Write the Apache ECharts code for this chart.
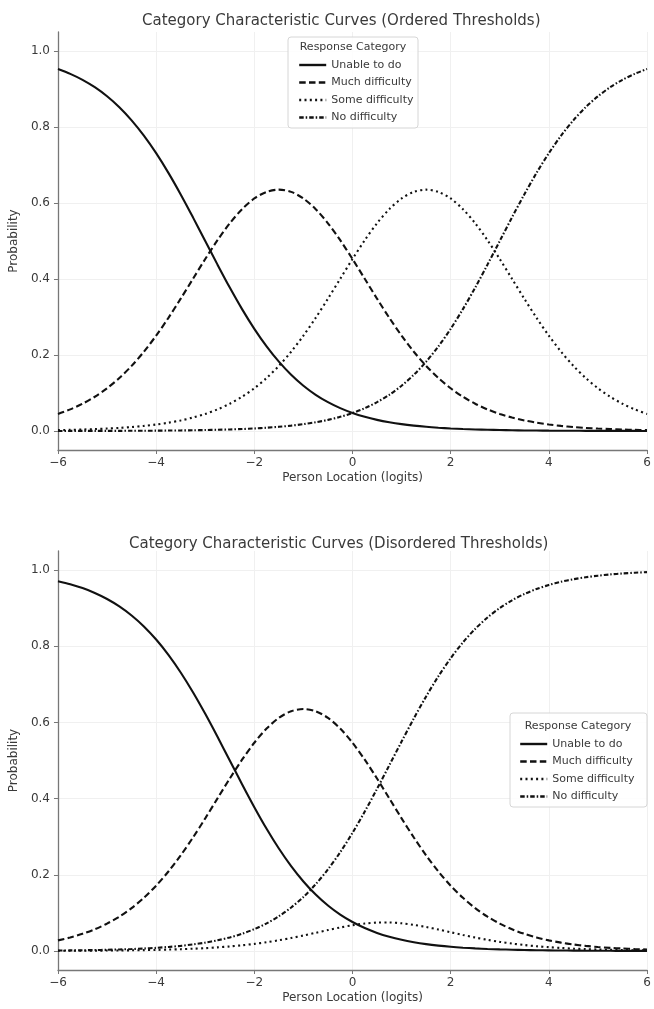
<!DOCTYPE html>
<html>
<head>
<meta charset="utf-8">
<script src="https://cdn.jsdelivr.net/npm/echarts@6/dist/echarts.min.js"></script>
<style>
html,body{margin:0;padding:0;background:#fff;}
#chart{width:654px;height:1009px;}
</style>
</head>
<body>
<div id="chart"></div>
<script>
const categories = ['Unable to do', 'Much difficulty', 'Some difficulty', 'No difficulty'];
const personLocation = [-6,-5.75,-5.5,-5.25,-5,-4.75,-4.5,-4.25,-4,-3.75,-3.5,-3.25,-3,-2.75,-2.5,-2.25,-2,-1.75,-1.5,-1.25,-1,-0.75,-0.5,-0.25,0,0.25,0.5,0.75,1,1.25,1.5,1.75,2,2.25,2.5,2.75,3,3.25,3.5,3.75,4,4.25,4.5,4.75,5,5.25,5.5,5.75,6];
const xTicks = [-6,-4,-2,0,2,4,6];
const yTicks = [0,0.2,0.4,0.6,0.8,1.0];

// Ordered thresholds
const ordUnable = [0.9526,0.9399,0.9241,0.9047,0.8808,0.8520,0.8176,0.7773,0.7311,0.6792,0.6225,0.5622,0.5,0.4378,0.3775,0.3208,0.2689,0.2227,0.1824,0.1480,0.1192,0.0953,0.0759,0.0601,0.0474,0.0373,0.0293,0.0230,0.0180,0.0141,0.0110,0.0086,0.0067,0.0052,0.0041,0.0032,0.0025,0.0019,0.0015,0.0012,0.0009,0.0007,0.0006,0.0004,0.0003,0.0003,0.0002,0.0002,0.0001];
const ordMuch   = [0.0450,0.0569,0.0718,0.0901,0.1125,0.1395,0.1714,0.2086,0.2510,0.2978,0.3482,0.4005,0.4526,0.5021,0.5466,0.5838,0.6119,0.6293,0.6351,0.6293,0.6119,0.5838,0.5466,0.5021,0.4526,0.4005,0.3482,0.2978,0.2510,0.2086,0.1714,0.1395,0.1125,0.0901,0.0718,0.0569,0.0450,0.0354,0.0278,0.0218,0.0171,0.0134,0.0104,0.0081,0.0064,0.0050,0.0039,0.0030,0.0024];
const ordSome   = [0.0024,0.0030,0.0039,0.0050,0.0064,0.0081,0.0104,0.0134,0.0171,0.0218,0.0278,0.0354,0.0450,0.0569,0.0718,0.0901,0.1125,0.1395,0.1714,0.2086,0.2510,0.2978,0.3482,0.4005,0.4526,0.5021,0.5466,0.5838,0.6119,0.6293,0.6351,0.6293,0.6119,0.5838,0.5466,0.5021,0.4526,0.4005,0.3482,0.2978,0.2510,0.2086,0.1714,0.1395,0.1125,0.0901,0.0718,0.0569,0.0450];
const ordNo     = [0.0001,0.0002,0.0002,0.0003,0.0003,0.0004,0.0006,0.0007,0.0009,0.0012,0.0015,0.0019,0.0025,0.0032,0.0041,0.0052,0.0067,0.0086,0.0110,0.0141,0.0180,0.0230,0.0293,0.0373,0.0474,0.0601,0.0759,0.0953,0.1192,0.1480,0.1824,0.2227,0.2689,0.3208,0.3775,0.4378,0.5,0.5622,0.6225,0.6792,0.7311,0.7773,0.8176,0.8520,0.8808,0.9047,0.9241,0.9399,0.9526];

// Disordered thresholds
const disUnable = [0.9707,0.9627,0.9526,0.9399,0.9241,0.9047,0.8808,0.8520,0.8176,0.7773,0.7311,0.6792,0.6225,0.5622,0.5,0.4378,0.3775,0.3208,0.2689,0.2227,0.1824,0.1480,0.1192,0.0953,0.0759,0.0601,0.0474,0.0373,0.0293,0.0230,0.0180,0.0141,0.0110,0.0086,0.0067,0.0052,0.0041,0.0032,0.0025,0.0019,0.0015,0.0012,0.0009,0.0007,0.0006,0.0004,0.0003,0.0003,0.0002];
const disMuch   = [0.0278,0.0354,0.0450,0.0569,0.0718,0.0901,0.1125,0.1395,0.1714,0.2086,0.2510,0.2978,0.3482,0.4005,0.4526,0.5021,0.5466,0.5838,0.6119,0.6293,0.6351,0.6293,0.6119,0.5838,0.5466,0.5021,0.4526,0.4005,0.3482,0.2978,0.2510,0.2086,0.1714,0.1395,0.1125,0.0901,0.0718,0.0569,0.0450,0.0354,0.0278,0.0218,0.0171,0.0134,0.0104,0.0081,0.0064,0.0050,0.0039];
const disSome   = [0.0004,0.0005,0.0006,0.0008,0.0011,0.0014,0.0017,0.0022,0.0028,0.0036,0.0046,0.0059,0.0074,0.0094,0.0119,0.0149,0.0185,0.0229,0.0281,0.0340,0.0406,0.0476,0.0548,0.0616,0.0675,0.0720,0.0744,0.0747,0.0726,0.0685,0.0629,0.0562,0.0491,0.0420,0.0353,0.0292,0.0239,0.0194,0.0156,0.0124,0.0099,0.0078,0.0061,0.0048,0.0038,0.0030,0.0023,0.0018,0.0014];
const disNo     = [0.0011,0.0014,0.0018,0.0024,0.0030,0.0039,0.0050,0.0064,0.0082,0.0105,0.0134,0.0171,0.0219,0.0279,0.0356,0.0452,0.0573,0.0724,0.0911,0.1141,0.1419,0.1751,0.2142,0.2592,0.3100,0.3659,0.4256,0.4875,0.5498,0.6106,0.6682,0.7211,0.7685,0.8100,0.8455,0.8754,0.9003,0.9206,0.9370,0.9503,0.9608,0.9692,0.9759,0.9811,0.9852,0.9885,0.9910,0.9930,0.9945];

const titles = ['Category Characteristic Curves (Ordered Thresholds)', 'Category Characteristic Curves (Disordered Thresholds)'];
const FONT = 'DejaVu Sans';
const TXT = '#3a3a3a';
const SPINE = '#777777';
const GRIDC = '#f0f0f0';
const dashTypes = ['solid', [6.5, 3.3], [2, 3.3], [4.5, 2, 1.5, 2]];

const chart = echarts.init(document.getElementById('chart'), null, {renderer: 'canvas'});

function pairs(ys) { return personLocation.map((x, i) => [x, ys[i]]); }
const minus = v => String(v).replace('-', '\u2212');

function xAxisFor(gi) {
  return {
    type: 'value', gridIndex: gi, min: -6, max: 6, interval: 2,
    name: 'Person Location (logits)', nameLocation: 'middle', nameGap: 22,
    nameTextStyle: {fontFamily: FONT, fontSize: 12, color: TXT},
    axisLine: {show: true, onZero: false, lineStyle: {color: SPINE, width: 1.3}},
    axisTick: {show: true, inside: false, length: 4, lineStyle: {color: SPINE, width: 1}},
    axisLabel: {fontFamily: FONT, fontSize: 12, color: TXT, margin: 7, formatter: v => minus(v)},
    splitLine: {show: true, lineStyle: {color: GRIDC, width: 1}}
  };
}
function yAxisFor(gi) {
  return {
    type: 'value', gridIndex: gi, min: -0.05, max: 1.05,
    name: 'Probability', nameLocation: 'middle', nameGap: 28, nameRotate: 90,
    nameTextStyle: {fontFamily: FONT, fontSize: 12, color: TXT},
    axisLine: {show: true, onZero: false, lineStyle: {color: SPINE, width: 1.3}},
    axisTick: {show: true, inside: false, length: 4, lineStyle: {color: SPINE, width: 1}, customValues: yTicks},
    axisLabel: {fontFamily: FONT, fontSize: 12, color: TXT, margin: 8, customValues: yTicks,
      formatter: v => Number(v).toFixed(1)},
    splitLine: {show: true, lineStyle: {color: GRIDC, width: 1}}
  };
}

const sets = [[ordUnable, ordMuch, ordSome, ordNo], [disUnable, disMuch, disSome, disNo]];
const series = [];
sets.forEach((arrs, gi) => {
  arrs.forEach((arr, k) => {
    series.push({
      type: 'line', name: categories[k], xAxisIndex: gi, yAxisIndex: gi,
      data: pairs(arr), showSymbol: false, symbol: 'none',
      smooth: 0.3,
      lineStyle: {color: '#111', width: 2.1, type: dashTypes[k], cap: 'butt'},
      itemStyle: {color: '#111'},
      emphasis: {disabled: true}, animation: false, z: 5
    });
  });
});

function legendFor(gi, left, top) {
  return {
    orient: 'vertical', left: left, top: top, z: 20,
    data: categories.map(c => ({name: c})),
    itemWidth: 27, itemHeight: 14, itemGap: 3.5,
    selectedMode: false,
    itemStyle: {color: 'transparent', borderWidth: 0, opacity: 0},
    lineStyle: {width: 2.4},
    textStyle: {fontFamily: FONT, fontSize: 11, color: TXT, lineHeight: 14}
  };
}

const option = {
  backgroundColor: '#ffffff',
  animation: false,
  title: [
    {text: titles[0], left: 137, top: 9, textStyle: {fontFamily: FONT, fontSize: 15, fontWeight: 'normal', color: TXT}},
    {text: titles[1], left: 124, top: 532, textStyle: {fontFamily: FONT, fontSize: 15, fontWeight: 'normal', color: TXT}}
  ],
  grid: [
    {left: 56, right: 7, top: 32, height: 418},
    {left: 54, right: 7, top: 551, height: 419}
  ],
  xAxis: [xAxisFor(0), xAxisFor(1)],
  yAxis: [yAxisFor(0), yAxisFor(1)],
  legend: [legendFor(0, 293, 53), legendFor(1, 514, 732)],
  graphic: [
    {type: 'rect', z: 15, shape: {x: 288, y: 37, width: 130, height: 91, r: 3},
     style: {fill: 'rgba(255,255,255,0.85)', stroke: '#d6d6d6', lineWidth: 1}},
    {type: 'text', z: 16, style: {x: 353, y: 47, text: 'Response Category', font: '11px "DejaVu Sans"', fill: TXT, align: 'center', verticalAlign: 'middle'}},
    {type: 'rect', z: 15, shape: {x: 510, y: 713, width: 137, height: 94, r: 3},
     style: {fill: 'rgba(255,255,255,0.85)', stroke: '#d6d6d6', lineWidth: 1}},
    {type: 'text', z: 16, style: {x: 578, y: 726, text: 'Response Category', font: '11px "DejaVu Sans"', fill: TXT, align: 'center', verticalAlign: 'middle'}}
  ],
  series: series
};
chart.setOption(option);
</script>
</body>
</html>
